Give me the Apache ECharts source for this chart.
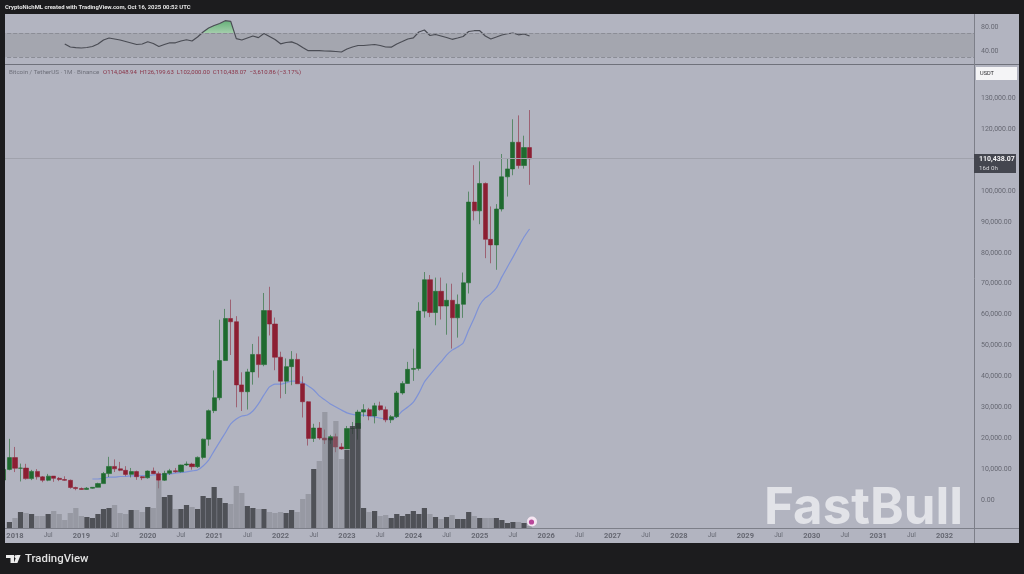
<!DOCTYPE html>
<html>
<head>
<meta charset="utf-8">
<title>BTCUSDT monthly</title>
<script src="https://cdn.jsdelivr.net/npm/echarts@6/dist/echarts.min.js"></script>
<style>
html, body { margin: 0; padding: 0; background: #1c1c1e; overflow: hidden; }
#main { width: 1024px; height: 574px; }
</style>
</head>
<body>
<div id="main"></div>
<script>
// monthly candles, first one is 2017-11, last one 2025-10
var opens = [6450,9900,13715,10285,10323,6922,9246,7485,6391,7735,7011,6626,6369,4041,3701,3434,3816,4102,5320,8555,10854,10085,9600,8294,9199,7546,7195,9352,8523,6412,8620,9448,9138,11335,11649,10776,13791,19700,28923,33092,45134,58739,57697,37253,35045,41461,47100,43820,61299,56950,46216,38466,43160,45510,37630,31801,19942,23296,20048,19422,20490,17165,16541,23125,23141,28465,29233,27210,30472,29232,25941,26962,34639,37723,42284,42580,61130,71280,60672,67540,62772,64628,58973,63327,70292,96408,93576,102429,84350,82550,94172,104591,107146,115764,108246,114048];
var highs = [11300,19798,17176,11786,11710,9759,10020,7760,8450,7750,7410,7680,6615,4312,4069,4198,4120,5600,9074,13970,13147,12325,10950,10370,9513,7750,9575,10500,9188,9460,10080,10380,11444,12468,12050,14100,19863,29300,41950,58352,61844,64854,59500,41330,42448,50500,52920,67000,69000,59053,47990,45821,48189,47444,40023,31982,24668,25211,22799,21085,21480,18387,23960,25250,29184,31000,29820,31431,31804,30244,27483,35280,38450,44700,48969,64000,73777,72797,71979,71980,70079,70000,66498,73620,99800,108353,109588,102783,95000,95758,111980,110530,123218,124474,117900,126199];
var lows = [5325,9600,9035,6000,6600,6430,6600,5750,6070,5880,6111,6205,3652,3156,3349,3373,3661,4067,5316,7444,9050,9320,7710,7300,6515,6435,6901,8445,3782,6150,8117,8833,8893,11000,9825,10374,13195,17572,28130,32296,45000,46930,30000,28805,29278,37332,39600,43283,53256,42000,32917,34322,37155,37578,26700,17622,18781,19520,18125,18190,15476,16256,16499,21351,19549,26942,25811,24800,28861,25166,24900,26538,34097,37615,38555,41884,59005,59191,56552,58402,53485,49000,52550,58946,66835,90500,89256,78258,76606,74508,93377,98200,105100,107250,107255,102000];
var closes = [9900,13715,10285,10326,6923,9246,7485,6391,7725,7011,6626,6371,4041,3702,3434,3816,4103,5320,8555,10855,10085,9600,8293,9199,7546,7195,9352,8523,6410,8620,9448,9138,11335,11649,10776,13791,19700,28923,33092,45135,58740,57694,37253,35045,41461,47100,43824,61299,56950,46216,38466,43160,45510,37630,31801,19942,23293,20050,19422,20490,17164,16542,23125,23141,28465,29233,27210,30472,29232,25941,26962,34639,37723,42284,42580,61130,71280,60672,67540,62772,64628,58973,63327,70292,96408,93576,102429,84350,82550,94172,104591,107146,115764,108246,114048,110438];
// relative volume
var volumes = [0,6,10,16,15,14,12,12,14,17,14,8,15,20,12,11,10,14,19,20,23,15,14,18,18,16,21,20,47,31,33,19,19,23,21,19,32,30,41,30,25,24,42,35,22,20,19,19,16,15,16,15,18,16,29,34,59,67,116,90,107,69,78,102,105,20,16,17,12,13,10,14,12,14,17,14,20,14,11,9,11,13,9,9,16,12,10,10,10,10,8,5,6,6,5,2];
// blue moving average, starts 2019-03
var maLine = [null,null,null,null,null,null,null,null,null,null,null,null,null,null,null,null,6800,6800,7100,7400,7400,7600,7600,7800,7800,7900,7900,8100,8100,8400,8400,8700,8900,9100,9400,9700,11000,12900,15900,18800,21700,24600,26200,27200,27500,28800,31100,34000,36600,37500,37500,37900,38500,38500,37900,36900,35600,33700,32400,31100,30100,29100,28200,27700,27500,27500,27200,26900,26500,26200,26200,26900,28800,30100,31700,34600,38200,40500,42700,44700,46900,48500,49500,50800,55000,58900,63100,65400,66700,68600,72200,75400,78600,81900,85100,87700];
// RSI, starts 2018-10
var rsi = [null,null,null,null,null,null,null,null,null,null,null,51.7,46.7,45.7,45,45.8,47.5,51.7,58.3,61.7,60,58.3,55.8,53.3,50.8,51.7,55.5,52.5,47.5,50.8,53.7,53.7,56.7,58.8,56.7,63.3,71.7,78.3,82.5,85.8,90.5,89.3,60.7,58.3,61.7,65,62.3,69.2,64.2,59.2,52,54.2,55.3,51.7,45.8,40.5,40.5,40.5,40,39.7,39.2,38.3,43.3,46.7,49.2,49.2,50,50.8,49.2,46.7,46.3,51.7,55.8,60,62,71.7,75,65.8,67.5,65,62.5,59.5,61.7,64.2,72.5,73.8,73.8,65,60,63.3,66.7,68.7,70,67,68.3,65];
var priceTicks = [0,10000,20000,30000,40000,50000,60000,70000,80000,90000,100000,120000,130000];
var rsiTicks = [40,80];

// axis runs on to the end of 2032
var months = [];
for (var y = 2017; y <= 2032; y++) {
  for (var m = 1; m <= 12; m++) {
    if (y === 2017 && m < 11) continue;
    months.push(y + '-' + (m < 10 ? '0' + m : m));
  }
}
months = months.slice(0, 176);

var font = 'Roboto, "Liberation Sans", sans-serif';
var bg = '#b2b4c0', dark = '#1c1c1e', axisLine = '#7d7f89', labelColor = '#666872';
var up = '#1f6a2f', down = '#8c1f33';
var gridLeft = 1.13, gridWidth = 973.84;

function fmt(v) {
  return v.toLocaleString('en-US', {minimumFractionDigits: 2, maximumFractionDigits: 2});
}
function txt(x, y, text, size, color, weight, family) {
  return {type: 'text', x: x, y: y, z: 40, silent: true, style: {
    text: text, fill: color, font: (weight || 'normal') + ' ' + size + 'px ' + (family || font),
    textAlign: 'left', textVerticalAlign: 'middle'
  }};
}
function hline(x1, y1, x2, y2, color) {
  return {type: 'line', z: 30, silent: true, shape: {x1: x1, y1: y1, x2: x2, y2: y2},
    style: {stroke: color, lineWidth: 1}};
}

var chart = echarts.init(document.getElementById('main'));
chart.setOption({
  animation: false,
  backgroundColor: dark,
  textStyle: {fontFamily: font},
  grid: [
    {left: gridLeft, width: gridWidth, top: 14, height: 50},
    {left: gridLeft, width: gridWidth, top: 65, height: 463},
    {left: gridLeft, width: gridWidth, top: 65, height: 463}
  ],
  xAxis: [
    {type: 'category', gridIndex: 0, data: months, show: false},
    {
      type: 'category', gridIndex: 1, data: months,
      axisLine: {show: true, onZero: false, lineStyle: {color: axisLine}},
      axisTick: {show: false},
      axisLabel: {
        margin: 4,
        hideOverlap: false,
        interval: function (i, v) { return /-(01|07)$/.test(v); },
        formatter: function (v) {
          return /-01$/.test(v) ? '{y|' + v.slice(0, 4) + '}' : '{m|Jul}';
        },
        rich: {
          y: {fontSize: 7.5, fontWeight: 'bold', color: labelColor},
          m: {fontSize: 6.5, color: labelColor}
        }
      }
    },
    {type: 'category', gridIndex: 2, data: months, show: false}
  ],
  yAxis: [
    {
      type: 'value', gridIndex: 0, position: 'right', min: 18.33, max: 101.67,
      splitLine: {show: false}, axisLine: {show: false}, axisTick: {show: false},
      axisLabel: {customValues: rsiTicks, margin: 6, fontSize: 7, color: labelColor, formatter: fmt}
    },
    {
      type: 'value', gridIndex: 1, position: 'right', min: -9061, max: 140777,
      splitLine: {show: false}, axisLine: {show: false}, axisTick: {show: false},
      axisLabel: {customValues: priceTicks, margin: 6, fontSize: 7, color: labelColor, formatter: fmt}
    },
    {type: 'value', gridIndex: 2, min: 0, max: 463, show: false}
  ],
  series: [
    {
      name: 'RSI', type: 'line', xAxisIndex: 0, yAxisIndex: 0, data: rsi, z: 3,
      showSymbol: false, silent: true,
      lineStyle: {color: '#4a4c54', width: 1.2},
      markArea: {silent: true, itemStyle: {color: '#a4a6af'}, data: [[{yAxis: 70}, {yAxis: 30}]]},
      markLine: {
        silent: true, symbol: 'none', label: {show: false},
        lineStyle: {color: '#8b8d96', type: 'dashed', width: 1},
        data: [{yAxis: 70}, {yAxis: 30}]
      }
    },
    {
      // only the 2021 stretch is shaded in the reference
      name: 'RSI fill', type: 'line', xAxisIndex: 0, yAxisIndex: 0, z: 2,
      data: rsi.map(function (v, i) { return i >= 36 && i <= 42 ? v : null; }),
      showSymbol: false, silent: true,
      lineStyle: {width: 0},
      areaStyle: {
        origin: 70,
        opacity: 1,
        color: new echarts.graphic.LinearGradient(0, 14, 0, 64, [
          {offset: 0, color: '#45a35e'},
          {offset: 0.38, color: '#a3cdab'},
          {offset: 0.381, color: 'rgba(0,0,0,0)'},
          {offset: 1, color: 'rgba(0,0,0,0)'}
        ], true)
      }
    },
    {
      name: 'BTCUSDT', type: 'candlestick', xAxisIndex: 1, yAxisIndex: 1, z: 2, barWidth: 4.6,
      silent: true,
      data: opens.map(function (o, i) { return [o, closes[i], lows[i], highs[i]]; }),
      itemStyle: {
        color: up, color0: down,
        borderColor: 'rgba(31,106,47,0.6)', borderColor0: 'rgba(140,31,51,0.55)', borderWidth: 1
      },
      markLine: {
        silent: true, symbol: 'none', label: {show: false},
        lineStyle: {color: '#a0a2ac', type: 'solid', width: 1},
        data: [{yAxis: 110438.07}]
      }
    },
    {
      name: 'MA', type: 'line', xAxisIndex: 1, yAxisIndex: 1, data: maLine, z: 2,
      showSymbol: false, silent: true, smooth: 0.2,
      lineStyle: {color: '#7e92d6', width: 1.2}
    },
    {
      name: 'Volume', type: 'bar', xAxisIndex: 2, yAxisIndex: 2, data: volumes, z: 3, barWidth: 5.2,
      silent: true,
      itemStyle: {
        color: function (p) {
          return closes[p.dataIndex] >= opens[p.dataIndex] ? 'rgba(51,52,58,0.78)' : 'rgba(124,126,134,0.5)';
        }
      }
    }
  ],
  graphic: {elements: [
    // panel behind everything
    {type: 'rect', z: -1, silent: true, shape: {x: 5, y: 14, width: 1014, height: 529}, style: {fill: bg}},
    // left edge of the frame hides the part of the axis that runs past it
    {type: 'rect', z: 20, silent: true, shape: {x: 0, y: 0, width: 5, height: 574}, style: {fill: dark}},
    hline(5, 64.5, 1019, 64.5, '#6f717b'),
    hline(974.5, 14, 974.5, 543, axisLine),
    hline(975, 528.5, 1019, 528.5, axisLine),
    txt(5, 8, 'CryptoNichML created with TradingView.com, Oct 16, 2025 00:52 UTC', 5.9, '#e6e6e6', 'bold'),
    txt(9, 72, 'Bitcoin / TetherUS \u00b7 1M \u00b7 Binance', 6.2, '#6e707a'),
    txt(103, 72, 'O114,048.94  H126,199.63  L102,000.00  C110,438.07  \u22123,610.86 (\u22123.17%)', 6, '#8a3448'),
    // currency box
    {type: 'rect', z: 35, silent: true, shape: {x: 976, y: 67, width: 41, height: 13}, style: {fill: '#f4f4f6'}},
    txt(980, 73.5, 'USDT', 5.6, '#2a2a2e'),
    // last price tag
    {type: 'rect', z: 35, silent: true, shape: {x: 974, y: 154, width: 42, height: 19}, style: {fill: '#44464f'}},
    txt(979, 159, '110,438.07', 7, '#f2f2f4', 'bold'),
    txt(979, 168, '16d 0h', 6.2, '#d6d6da'),
    // the small marker after the last bar
    {type: 'circle', z: 35, silent: true, shape: {cx: 532, cy: 521.5, r: 5}, style: {fill: '#f6e6f2'}},
    {type: 'circle', z: 36, silent: true, shape: {cx: 531.5, cy: 522, r: 2.6}, style: {fill: '#b8469a'}},
    // watermark
    txt(764, 509, 'FastBull', 51, '#e2e3e8', 'bold', 'Inter, Roboto, sans-serif'),
    // TradingView logo
    {type: 'polygon', z: 40, silent: true, shape: {points: [[6, 555], [14, 555], [14, 563], [10.5, 563], [10.5, 558], [6, 558]]}, style: {fill: '#ececec'}},
    {type: 'circle', z: 40, silent: true, shape: {cx: 16, cy: 556.6, r: 1.6}, style: {fill: '#ececec'}},
    {type: 'polygon', z: 40, silent: true, shape: {points: [[17, 555], [20.6, 555], [17.4, 563], [13.8, 563]]}, style: {fill: '#ececec'}},
    txt(25, 559, 'TradingView', 11.4, '#e2e2e2', '500')
  ]}
});
</script>
</body>
</html>
